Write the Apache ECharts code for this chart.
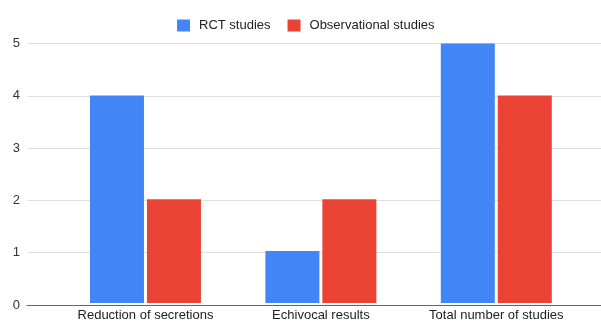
<!DOCTYPE html>
<html>
<head>
<meta charset="utf-8">
<script src="https://cdn.jsdelivr.net/npm/echarts@6/dist/echarts.min.js"></script>
<style>
  html, body { margin: 0; padding: 0; background: #fff; }
  #chart { width: 601px; height: 322px; }
</style>
</head>
<body>
<div id="chart"></div>
<script>
// Study counts per outcome category
const categories = ['Reduction of secretions', 'Echivocal results', 'Total number of studies'];
const rctStudies = [4, 1, 5];
const observationalStudies = [2, 2, 4];
const seriesNames = ['RCT studies', 'Observational studies'];
const yTicks = { min: 0, max: 5, interval: 1 };

const font = 'Arial, "Liberation Sans", sans-serif';
const chart = echarts.init(document.getElementById('chart'), null, { renderer: 'canvas' });

chart.setOption({
  animation: false,
  backgroundColor: '#ffffff',
  legend: {
    top: 14,
    left: 172,
    itemWidth: 13,
    itemHeight: 12,
    itemGap: 17,
    icon: 'rect',
    textStyle: { fontFamily: font, fontSize: 13, color: '#222', padding: [0, 0, 0, 4] },
    data: seriesNames
  },
  grid: [
    // background grid: gridlines, y labels and baseline span the full width
    { left: 27, right: 0, top: 43.5, bottom: 17 },
    // bars sit in a narrower band
    { left: 57.75, right: 17, top: 43.5, bottom: 17 }
  ],
  xAxis: [
    {
      gridIndex: 0, type: 'category', data: [''],
      axisLine: { show: true, lineStyle: { color: '#666', width: 1 } },
      axisTick: { show: false }, axisLabel: { show: false }, splitLine: { show: false }
    },
    {
      gridIndex: 1, type: 'category', data: categories,
      axisLine: { show: false }, axisTick: { show: false },
      axisLabel: { interval: 0, fontFamily: font, fontSize: 13, color: '#222', margin: 6 }
    }
  ],
  yAxis: [
    {
      gridIndex: 0, type: 'value', min: yTicks.min, max: yTicks.max, interval: yTicks.interval,
      axisLine: { show: false }, axisTick: { show: false },
      axisLabel: { fontFamily: font, fontSize: 13, color: '#333', margin: 7 },
      splitLine: { lineStyle: { color: '#e0e0e0', width: 1 } }
    },
    {
      gridIndex: 1, type: 'value', min: yTicks.min, max: yTicks.max, interval: yTicks.interval,
      show: false, splitLine: { show: false }
    }
  ],
  series: [
    {
      name: seriesNames[0], type: 'bar', xAxisIndex: 1, yAxisIndex: 1,
      data: rctStudies, barWidth: 54, barGap: '5.5%',
      itemStyle: { color: '#4285F4' }
    },
    {
      name: seriesNames[1], type: 'bar', xAxisIndex: 1, yAxisIndex: 1,
      data: observationalStudies, barWidth: 54, barGap: '5.5%',
      itemStyle: { color: '#EA4335' }
    }
  ]
});
</script>
</body>
</html>
